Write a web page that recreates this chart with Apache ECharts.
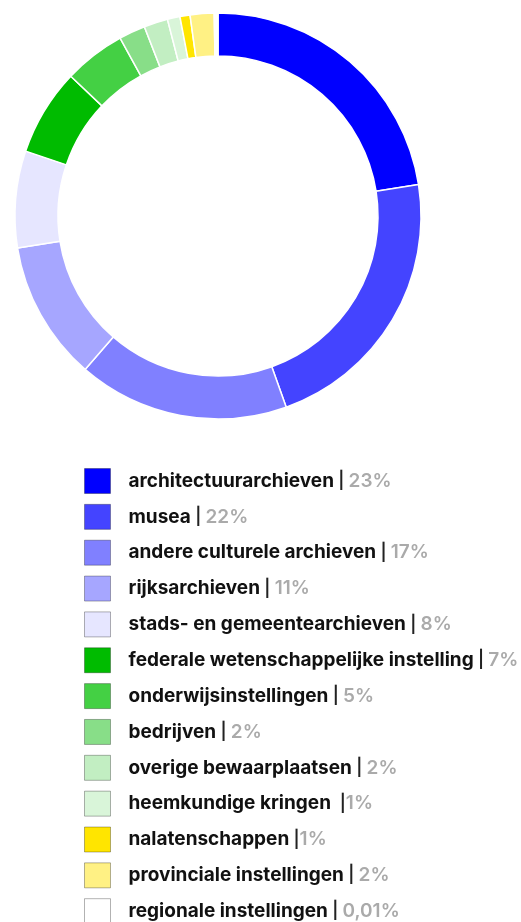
<!DOCTYPE html>
<html>
<head>
<meta charset="utf-8">
<script src="https://cdn.jsdelivr.net/npm/echarts@6/dist/echarts.min.js"></script>
<style>
html,body{margin:0;padding:0;background:#fff;}
#chart{width:521px;height:922px;}
</style>
</head>
<body>
<div id="chart"></div>
<script>
const categories = [
  "architectuurarchieven", "musea", "andere culturele archieven", "rijksarchieven",
  "stads- en gemeentearchieven", "federale wetenschappelijke instelling", "onderwijsinstellingen",
  "bedrijven", "overige bewaarplaatsen", "heemkundige kringen ", "nalatenschappen",
  "provinciale instellingen", "regionale instellingen"
];
const sliceValues = [22.5, 22.0, 16.8, 11.1, 7.7, 6.9, 4.9, 2.1, 1.9, 1.0, 0.8, 1.9, 0.3];
const percentLabels = ["23%", "22%", "17%", "11%", "8%", "7%", "5%", "2%", "2%", "1%", "1%", "2%", "0,01%"];
const separators = [" | ", " | ", " | ", " | ", " | ", " | ", " | ", " | ", " | ", " |", " |", " | ", " | "];
const colors = ["#0000FF", "#4444FF", "#8080FF", "#A6A6FF", "#E6E6FF", "#00BB00", "#44D044",
  "#88DE88", "#C2EEC2", "#D9F5D9", "#FFE500", "#FFF184", "#FFFFFF"];

const chart = echarts.init(document.getElementById('chart'), null, {renderer: 'canvas'});
const data = categories.map((c, i) => ({name: c, value: sliceValues[i], itemStyle: {color: colors[i]}}));
const pctMap = {}, sepMap = {};
categories.forEach((c, i) => { pctMap[c] = percentLabels[i]; sepMap[c] = separators[i]; });

chart.setOption({
  animation: false,
  backgroundColor: '#fff',
  legend: {
    orient: 'vertical',
    left: 84,
    top: 468,
    height: 480,
    padding: 0,
    itemWidth: 26,
    itemHeight: 25,
    itemGap: 9.85,
    icon: 'rect',
    selectedMode: false,
    itemStyle: {borderColor: 'rgba(0,0,0,0.3)', borderWidth: 1},
    formatter: function (name) {
      return '{n|' + name + '}{s|' + sepMap[name] + '}{p|' + pctMap[name] + '}';
    },
    textStyle: {
      lineHeight: 24,
      rich: {
        n: {fontFamily: 'Inter', fontWeight: 700, fontSize: 19, lineHeight: 24, color: '#111', padding: [0, 0, 0, 13]},
        s: {fontFamily: 'Inter', fontWeight: 600, fontSize: 17, lineHeight: 24, color: '#222'},
        p: {fontFamily: 'Inter', fontWeight: 600, fontSize: 19, lineHeight: 24, color: '#aaaaaa'}
      }
    }
  },
  series: [{
    type: 'pie',
    center: [218, 216],
    radius: [160, 203],
    startAngle: 90,
    clockwise: true,
    label: {show: false},
    labelLine: {show: false},
    emphasis: {disabled: true},
    itemStyle: {borderColor: '#fff', borderWidth: 1.5},
    data: data
  }]
});
</script>
</body>
</html>
